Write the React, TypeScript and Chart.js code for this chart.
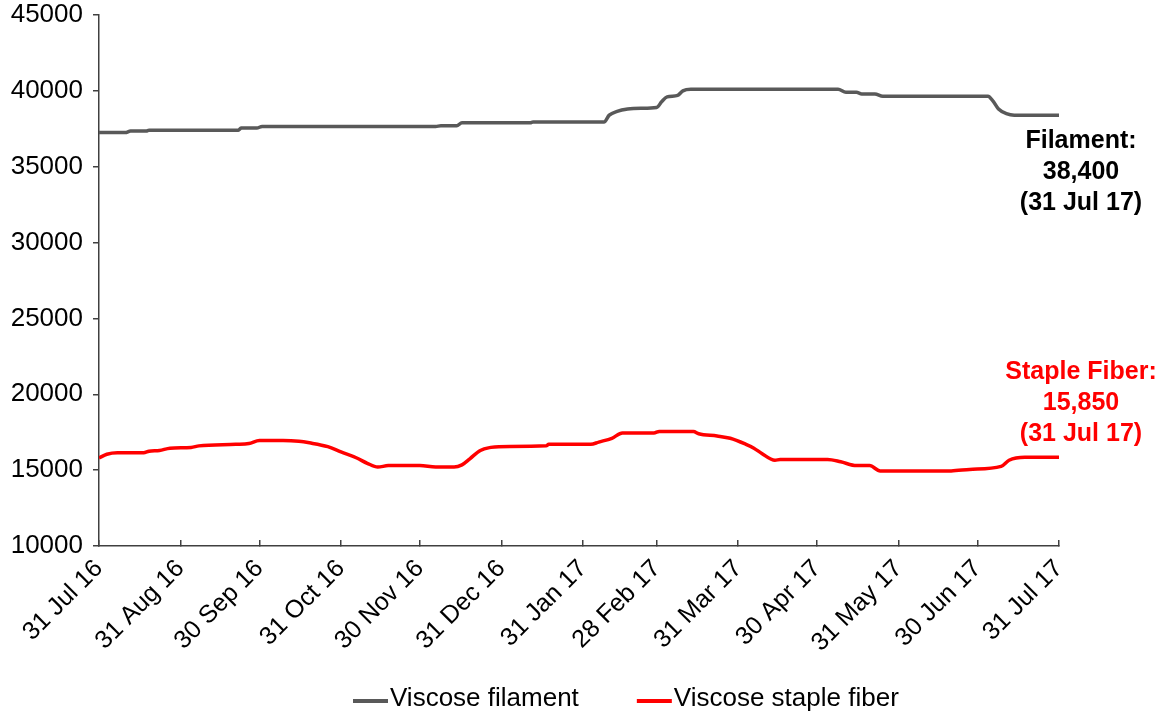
import { useEffect, useRef } from "react";
import { Chart, registerables } from "chart.js";

Chart.register(...registerables);

// Days since 31 Jul 2016 for each x-axis tick
const tickDays = [0, 31, 61, 92, 122, 153, 184, 212, 243, 273, 304, 334, 365];
const tickLabels = [
  "31 Jul 16", "31 Aug 16", "30 Sep 16", "31 Oct 16", "30 Nov 16", "31 Dec 16",
  "31 Jan 17", "28 Feb 17", "31 Mar 17", "30 Apr 17", "31 May 17", "30 Jun 17", "31 Jul 17",
];
const yTickValues = [10000, 15000, 20000, 25000, 30000, 35000, 40000, 45000];

const seriesNames = ["Viscose filament", "Viscose staple fiber"];
const seriesColors = ["#595959", "#ff0000"];

const filamentDays = [
  0, 10, 12, 18, 19, 53, 54, 60, 62, 128, 130, 136, 138, 164, 165, 192, 194, 197, 201, 206,
  212, 214, 216, 220, 222, 225, 281, 284, 288, 290, 295, 298, 338, 340, 342, 345, 348, 365,
];
const filamentValues = [
  37250, 37250, 37350, 37350, 37400, 37400, 37550, 37550, 37650, 37650, 37700, 37700, 37900,
  37900, 37950, 37950, 38400, 38650, 38800, 38850, 38900, 39300, 39600, 39700, 40000, 40100,
  40100, 39900, 39900, 39800, 39800, 39650, 39650, 39300, 38800, 38500, 38400, 38400,
];

const stapleDays = [
  0, 3, 7, 17, 19, 23, 27, 35, 38, 52, 57, 61, 70, 76, 80, 87, 92, 98, 102, 106, 110, 122,
  128, 135, 138, 141, 145, 149, 152, 170, 171, 187, 190, 195, 199, 211, 213, 226, 228, 235,
  240, 246, 249, 252, 257, 259, 277, 282, 288, 293, 297, 324, 331, 343, 346, 352, 365,
];
const stapleValues = [
  15800, 16050, 16150, 16150, 16250, 16300, 16450, 16500, 16600, 16700, 16750, 16950, 16950,
  16900, 16800, 16550, 16200, 15800, 15450, 15200, 15300, 15300, 15200, 15200, 15350, 15750,
  16300, 16500, 16550, 16600, 16700, 16700, 16850, 17100, 17450, 17450, 17550, 17550, 17400,
  17250, 17100, 16700, 16450, 16100, 15650, 15700, 15700, 15550, 15300, 15300, 14950, 14950,
  15050, 15250, 15650, 15850, 15850,
];

const calloutTexts = [
  ["Filament:", "38,400", "(31 Jul 17)"],
  ["Staple Fiber:", "15,850", "(31 Jul 17)"],
];
const calloutColors = ["#000000", "#ff0000"];

const FONT = "'Liberation Sans', Arial, Helvetica, sans-serif";
const AXIS_COLOR = "#404040";

const overlayPlugin = {
  id: "overlay",
  afterDraw(chart: any) {
    const { ctx, chartArea, scales } = chart;
    const yScale = scales.y;
    ctx.save();
    // Callouts next to the last points
    ctx.font = `bold 25px ${FONT}`;
    ctx.textAlign = "center";
    ctx.textBaseline = "middle";
    const cx = chartArea.right + 22;
    const offsets = [
      [26, 57, 88],
      [-85, -54, -23],
    ];
    chart.data.datasets.forEach((ds: any, i: number) => {
      const last = ds.data[ds.data.length - 1].y;
      const py = yScale.getPixelForValue(last);
      ctx.fillStyle = calloutColors[i];
      calloutTexts[i].forEach((t, j) => ctx.fillText(t, cx, py + offsets[i][j]));
    });
    // Legend
    ctx.font = `26px ${FONT}`;
    ctx.textAlign = "left";
    ctx.textBaseline = "middle";
    const ly = 699;
    let x = chartArea.left + 254;
    chart.data.datasets.forEach((ds: any) => {
      ctx.strokeStyle = ds.borderColor;
      ctx.lineWidth = 4;
      ctx.lineCap = "butt";
      ctx.beginPath();
      ctx.moveTo(x, ly + 2);
      ctx.lineTo(x + 35, ly + 2);
      ctx.stroke();
      x += 37;
      ctx.fillStyle = "#000000";
      ctx.fillText(ds.label, x, ly);
      x += ctx.measureText(ds.label).width + 58;
    });
    ctx.restore();
  },
};

export default function App() {
  const canvasRef = useRef<HTMLCanvasElement | null>(null);

  useEffect(() => {
    if (!canvasRef.current) return;
    const chart = new Chart(canvasRef.current, {
      type: "line",
      data: {
        datasets: [
          {
            label: seriesNames[0],
            data: filamentDays.map((d, i) => ({ x: d, y: filamentValues[i] })),
            borderColor: seriesColors[0],
            backgroundColor: seriesColors[0],
            borderWidth: 3.5,
            pointRadius: 0,
            cubicInterpolationMode: "monotone",
            fill: false,
          },
          {
            label: seriesNames[1],
            data: stapleDays.map((d, i) => ({ x: d, y: stapleValues[i] })),
            borderColor: seriesColors[1],
            backgroundColor: seriesColors[1],
            borderWidth: 3.5,
            pointRadius: 0,
            cubicInterpolationMode: "monotone",
            fill: false,
          },
        ],
      },
      options: {
        responsive: false,
        animation: false,
        layout: { padding: { left: 0, right: 99, top: 15, bottom: 0 } },
        plugins: {
          legend: { display: false },
          tooltip: { enabled: false },
        },
        scales: {
          x: {
            type: "linear",
            min: 0,
            max: 365,
            afterBuildTicks: (s: any) => {
              s.ticks = tickDays.map((v) => ({ value: v }));
            },
            afterFit: (s: any) => {
              s.height = 166;
              s.paddingLeft = 0;
              s.paddingRight = 0;
            },
            grid: { drawOnChartArea: false, tickLength: -6, color: AXIS_COLOR, lineWidth: 1.5 },
            border: { display: true, color: AXIS_COLOR, width: 1.5 },
            ticks: {
              autoSkip: false,
              minRotation: 45,
              maxRotation: 45,
              padding: 14,
              color: "#000000",
              font: { family: FONT, size: 25 },
              callback: (_v: any, i: number) => tickLabels[i],
            },
          },
          y: {
            type: "linear",
            min: 10000,
            max: 45000,
            afterBuildTicks: (s: any) => {
              s.ticks = yTickValues.map((v) => ({ value: v }));
            },
            afterFit: (s: any) => {
              s.width = 99;
              s.paddingTop = 0;
              s.paddingBottom = 0;
            },
            grid: { drawOnChartArea: false, tickLength: 6, color: AXIS_COLOR, lineWidth: 1.5 },
            border: { display: true, color: AXIS_COLOR, width: 1.5 },
            ticks: {
              padding: 10,
              color: "#000000",
              font: { family: FONT, size: 26 },
              callback: (v: any) => String(v),
            },
          },
        },
      },
      plugins: [overlayPlugin],
    });
    return () => chart.destroy();
  }, []);

  return (
    <div style={{ position: "fixed", left: 0, top: 0, width: 1158, height: 712, background: "#fff" }}>
      <canvas ref={canvasRef} width={1158} height={712} style={{ display: "block" }} />
    </div>
  );
}
